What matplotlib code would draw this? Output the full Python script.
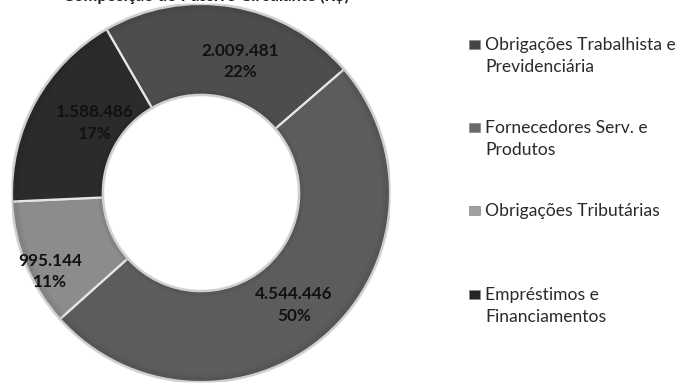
import numpy as np
import matplotlib
matplotlib.use("Agg")
import matplotlib.pyplot as plt
from matplotlib.patches import Rectangle

plt.rcParams['font.family'] = ['Lato', 'DejaVu Sans']

# Passivo circulante, em R$
categorias = ["Obrigações Trabalhista e\nPrevidenciária",
              "Fornecedores Serv. e\nProdutos",
              "Obrigações Tributárias",
              "Empréstimos e\nFinanciamentos"]
valores = [2009481, 4544446, 995144, 1588486]
cores = ["#4d4d4d", "#5c5c5c", "#8c8c8c", "#2b2b2b"]
cores_legenda = ["#454545", "#6a6a6a", "#a0a0a0", "#262626"]
titulo = "Composição do Passivo Circulante (R$)"

W, H = 680, 384
fig = plt.figure(figsize=(W / 100, H / 100), dpi=100)

# donut: centre (201, 193) px, outer radius 189 px
cx, cy, r = 201, 193, 189
ax = fig.add_axes([(cx - r) / W, (H - cy - r) / H, 2 * r / W, 2 * r / H])
wedges, _ = ax.pie(valores, colors=cores, startangle=120, counterclock=False,
                   radius=1.0,
                   wedgeprops=dict(width=0.48, edgecolor="#e6e6e6", linewidth=1.6))
ax.set_xlim(-1, 1)
ax.set_ylim(-1, 1)
ax.set_aspect("equal")
ax.axis("off")

# soft darkening toward the outer rim and the hole
for rad, alpha in [(1.0, 0.10), (0.985, 0.06), (0.97, 0.03)]:
    ax.add_patch(plt.Circle((0, 0), rad, fill=False, edgecolor="black",
                            linewidth=2.5, alpha=alpha))
for rad, alpha in [(0.52, 0.10), (0.535, 0.05)]:
    ax.add_patch(plt.Circle((0, 0), rad, fill=False, edgecolor="black",
                            linewidth=2.5, alpha=alpha))

total = sum(valores)
# per-slice label tweaks: (radius, angle shift in degrees)
ajustes = [(0.725, -6.9), (0.77, -1.6), (0.90, 5.3), (0.672, -4.7)]
for w, v, (rr, da) in zip(wedges, valores, ajustes):
    ang = np.deg2rad((w.theta1 + w.theta2) / 2 + da)
    txt = f"{v:,}".replace(",", ".") + f"\n{round(100 * v / total)}%"
    ax.text(rr * np.cos(ang), rr * np.sin(ang), txt, ha="center", va="center",
            fontsize=12.3, fontweight="bold", color="#111111", linespacing=1.43)

# title, mostly cut off at the top edge
fig.text(206 / W, 1 - 1 / H, titulo, ha="center", va="baseline",
         fontsize=12, fontweight="bold", color="#222222")

# legend drawn by hand, one text per line; marker sits on the first baseline
bases_y = [50, 133, 216, 300]
passo = 22
for nome, cor, yy in zip(categorias, cores_legenda, bases_y):
    fig.patches.append(Rectangle((469 / W, 1 - (yy - 1) / H), 11 / W, 9 / H,
                                 transform=fig.transFigure, facecolor=cor,
                                 edgecolor="#888888", linewidth=0.5))
    for i, linha in enumerate(nome.split("\n")):
        fig.text(485 / W, 1 - (yy + i * passo) / H, linha, ha="left",
                 va="baseline", fontsize=12.6, color="#2a2a2a")

fig.savefig("out.png", dpi=100, facecolor="white")
